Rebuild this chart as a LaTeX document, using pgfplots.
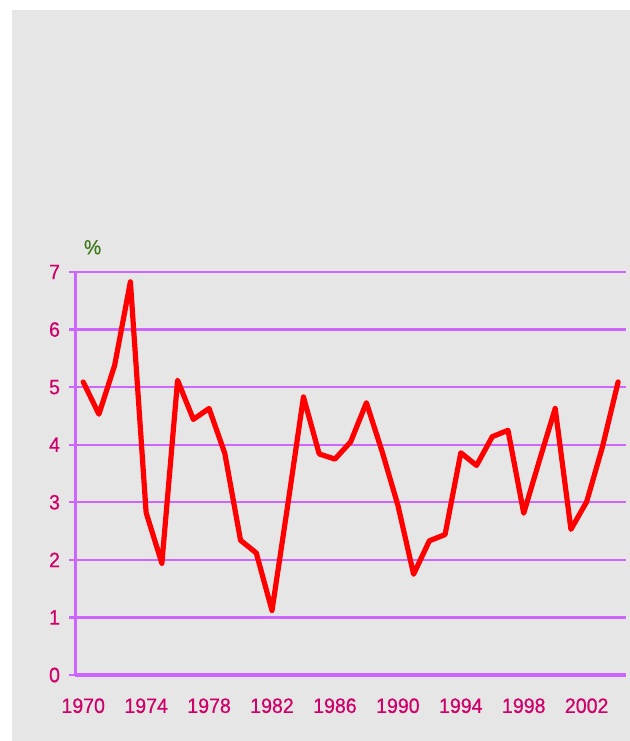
\documentclass[border=0pt]{standalone}
\usepackage{pgfplots}
\pgfplotsset{compat=1.18}
\usepackage{fontspec}
\setmainfont{Liberation Sans}[FakeStretch=0.94, FakeBold=0.6]
\definecolor{bg}{HTML}{E6E6E6}
\definecolor{gridc}{HTML}{CC66FF}
\definecolor{lab}{HTML}{D0006A}
\definecolor{pct}{HTML}{3F7A1A}
\pgfplotstableread{
year val
1970 5.09
1971 4.53
1972 5.38
1973 6.83
1974 2.82
1975 1.94
1976 5.12
1977 4.44
1978 4.63
1979 3.85
1980 2.34
1981 2.12
1982 1.12
1983 2.95
1984 4.83
1985 3.84
1986 3.75
1987 4.05
1988 4.73
1989 3.88
1990 2.95
1991 1.75
1992 2.33
1993 2.44
1994 3.86
1995 3.64
1996 4.14
1997 4.25
1998 2.81
1999 3.73
2000 4.63
2001 2.53
2002 3.01
2003 3.96
2004 5.09
}\growth
\begin{document}
\begin{tikzpicture}
\fill[white] (0,0) rectangle (472.5pt,-555.75pt);
\fill[bg] (9pt,-7.5pt) rectangle (472.5pt,-555.75pt);
\begin{axis}[
  at={(56.5pt,-506.25pt)}, anchor=south west,
  scale only axis, width=413pt, height=302.25pt,
  xmin=1969.5, xmax=2004.5, ymin=0, ymax=7,
  axis x line*=bottom, axis y line*=left,
  axis line style={gridc, line width=2.4pt},
  ymajorgrids, grid style={gridc, line width=1.8pt},
  ytick={0,1,2,3,4,5,6,7},
  yticklabels={0,1,2,3,4,5,6,7},
  xtick={1970,1974,1978,1982,1986,1990,1994,1998,2002},
  xticklabels={1970,1974,1978,1982,1986,1990,1994,1998,2002},
  x tick style={draw=none},
  extra x ticks={1969.5,1973.5,1977.5,1981.5,1985.5,1989.5,1993.5,1997.5,2001.5},
  extra x tick labels={},
  extra x tick style={grid=none, tick style={draw=gridc, line width=1.8pt}},
  tick align=outside, major tick length=4.5pt,
  y tick style={gridc, line width=1.8pt},
  ticklabel style={lab, font=\fontsize{15.6}{17}\selectfont},
  x tick label style={yshift=-9.5pt},
  y tick label style={xshift=-3.5pt},
  /pgf/number format/assume math mode=true,
  clip=false,
]
\addplot[red, line width=3.9pt, line join=round, line cap=round] table[x=year, y=val] {\growth};
\node[pct, font=\fontsize{15.5}{17}\selectfont] at (axis cs:1970.6,7.43) {\%};
\end{axis}
\end{tikzpicture}
\end{document}
